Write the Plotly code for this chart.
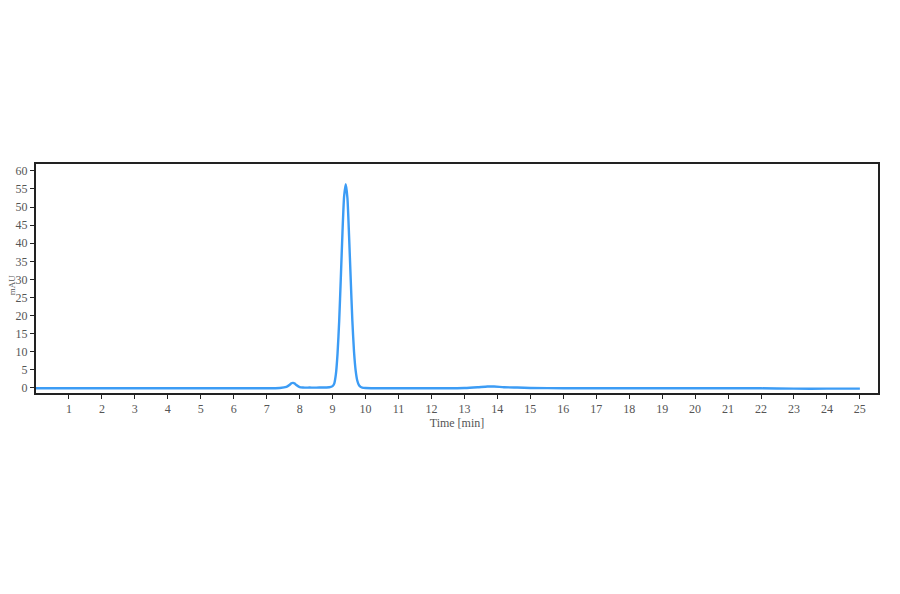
import plotly.graph_objects as go

# Χρωματογράφημα: χρόνος (min) και σήμα (mAU), διαβασμένα από την εικόνα
time_min = [0.0, 1.0, 2.0, 3.0, 4.0, 5.0, 6.0, 7.0, 7.4, 7.6, 7.7, 7.75, 7.8, 7.85, 7.9, 8.0,
            8.1, 8.3, 8.6, 8.9, 9.0, 9.05, 9.1, 9.15, 9.2, 9.25, 9.3, 9.35, 9.4, 9.45,
            9.5, 9.55, 9.6, 9.65, 9.7, 9.75, 9.8, 9.85, 9.9, 10.0, 10.5, 11.0, 12.0, 13.0,
            13.4, 13.7, 13.9, 14.2, 14.6, 15.0, 16.0, 18.0, 20.0, 22.0, 23.0, 24.0, 25.0]
signal_mau = [-0.1, -0.1, -0.1, -0.1, -0.1, -0.1, -0.1, -0.1, 0.0, 0.3, 0.9, 1.3, 1.4, 1.2, 0.8, 0.2,
              0.1, 0.1, 0.1, 0.2, 0.5, 1.2, 3.8, 9.5, 18.5, 30.5, 43.0, 53.0, 56.3, 52.5,
              42.0, 30.0, 18.5, 10.0, 4.8, 2.0, 0.8, 0.3, 0.1, 0.0, -0.1, -0.1, -0.1, 0.0,
              0.2, 0.4, 0.4, 0.2, 0.1, 0.0, -0.1, -0.1, -0.1, -0.1, -0.2, -0.2, -0.2]

x_ticks = list(range(1, 26))
y_ticks = list(range(0, 61, 5))

fig = go.Figure()
fig.add_trace(go.Scatter(x=time_min, y=signal_mau, mode='lines',
                         line=dict(color='#3c9cf5', width=2.4, shape='spline', smoothing=0.6),
                         showlegend=False, hoverinfo='skip'))

# η σελίδα έχει περιθώριο ~8px, γι' αυτό τα margins είναι μετατοπισμένα
fig.update_layout(
    width=900, height=594,
    paper_bgcolor='white', plot_bgcolor='white',
    margin=dict(l=28, r=30, t=156, b=209),
    font=dict(family='Liberation Serif', size=12, color='#555555'),
)
fig.update_xaxes(range=[0, 25.55], tickvals=x_ticks, ticks='outside', ticklen=4,
                 tickcolor='#222222', showgrid=False, zeroline=False, automargin=False,
                 showline=True, linecolor='#222222', linewidth=2, mirror=True,
                 title=dict(text='Time [min]', standoff=2, font=dict(size=12)))
fig.update_yaxes(range=[-1.4, 61.9], tickvals=y_ticks, ticks='outside', ticklen=4,
                 tickcolor='#222222', showgrid=False, zeroline=False, automargin=False,
                 showline=True, linecolor='#222222', linewidth=2, mirror=True)

# τίτλος άξονα y ως annotation, αριστερά από τις ετικέτες
fig.add_annotation(text='mAU', xref='paper', yref='paper', x=0, y=0.47,
                   xshift=-31, textangle=-90, showarrow=False, font=dict(size=9))

fig.write_html('out.html')
